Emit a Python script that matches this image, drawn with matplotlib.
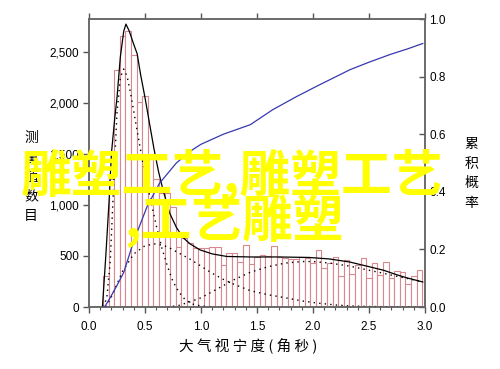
import numpy as np
import matplotlib
matplotlib.use("Agg")
import matplotlib.pyplot as plt
from matplotlib.ticker import FuncFormatter, MultipleLocator

plt.rcParams['font.family'] = ['Liberation Sans', 'DejaVu Sans']
cjk = ['Noto Sans CJK SC', 'DejaVu Sans']

# histogram: bin centres (arcsec) and counts
bin_centers = [0.15, 0.20, 0.25, 0.30, 0.35, 0.40, 0.45, 0.50, 0.55, 0.60,
               0.65, 0.70, 0.75, 0.80, 0.85, 0.90, 0.95, 1.00, 1.05, 1.10,
               1.15, 1.20, 1.25, 1.30, 1.35, 1.40, 1.45, 1.50, 1.55, 1.60,
               1.65, 1.70, 1.75, 1.80, 1.85, 1.90, 1.95, 2.00, 2.05, 2.10,
               2.15, 2.20, 2.25, 2.30, 2.35, 2.40, 2.45, 2.50, 2.55, 2.60,
               2.65, 2.70, 2.75, 2.80, 2.85, 2.90, 2.95]
counts = [300, 1250, 2320, 2650, 2700, 2470, 2010, 2070, 1500, 1250,
          1120, 1120, 980, 590, 680, 630, 580, 580, 580, 590,
          585, 410, 530, 530, 440, 610, 420, 490, 510, 500,
          598, 490, 480, 470, 470, 490, 480, 430, 560, 380,
          430, 493, 305, 460, 325, 410, 475, 285, 430, 315,
          445, 285, 355, 345, 230, 300, 365]

# total fit curve
fit_x = [0.12, 0.15, 0.18, 0.20, 0.23, 0.25, 0.28, 0.31, 0.33, 0.36, 0.40,
         0.43, 0.46, 0.50, 0.54, 0.58, 0.62, 0.66, 0.72, 0.78, 0.84, 0.90,
         0.99, 1.10, 1.23, 1.44, 1.70, 1.97, 2.15, 2.33, 2.50, 2.63, 2.75,
         2.84, 2.98]
fit_y = [0, 500, 1050, 1500, 1850, 2050, 2450, 2700, 2770, 2700, 2570,
         2480, 2280, 2050, 1800, 1550, 1330, 1150, 920, 780, 680, 620,
         560, 520, 495, 490, 490, 485, 470, 440, 395, 360, 315,
         285, 245]

# fitted components
comp1_x = [0.13, 0.16, 0.19, 0.22, 0.25, 0.28, 0.31, 0.34, 0.37, 0.41, 0.45,
           0.50, 0.55, 0.60, 0.65, 0.70, 0.75, 0.80, 0.86, 0.92, 1.00, 1.10]
comp1_y = [0, 100, 450, 1200, 1900, 2250, 2330, 2260, 2100, 1850, 1600,
           1300, 1050, 800, 580, 400, 250, 150, 70, 30, 10, 0]
comp2_x = [0.15, 0.20, 0.30, 0.40, 0.50, 0.60, 0.70, 0.80, 0.90, 1.00, 1.10,
           1.20, 1.30, 1.44, 1.60, 1.73, 1.90, 2.03, 2.20, 2.33, 2.50, 2.98]
comp2_y = [0, 100, 350, 520, 600, 620, 590, 530, 470, 400, 330,
           270, 220, 160, 120, 95, 60, 40, 20, 10, 5, 0]
comp3_x = [0.70, 0.80, 0.90, 1.00, 1.10, 1.20, 1.30, 1.44, 1.60, 1.75, 1.90,
           2.00, 2.15, 2.33, 2.50, 2.63, 2.75, 2.84, 2.98]
comp3_y = [0, 15, 50, 90, 150, 210, 270, 340, 395, 430, 445,
           445, 430, 400, 360, 330, 300, 280, 245]

# cumulative probability
cum_x = [0.14, 0.20, 0.25, 0.31, 0.40, 0.52, 0.63, 0.78, 0.90, 1.00, 1.20,
         1.44, 1.64, 1.85, 2.03, 2.33, 2.50, 2.69, 2.85, 2.98]
cum_y = [0.0, 0.04, 0.075, 0.12, 0.23, 0.35, 0.43, 0.50, 0.54, 0.565, 0.60,
         0.633, 0.685, 0.73, 0.766, 0.824, 0.85, 0.877, 0.897, 0.915]

fig = plt.figure(figsize=(5, 3.69), dpi=100)
ax = fig.add_axes([0.178, 0.168, 0.672, 0.7805])

ax.bar(bin_centers, counts, width=0.05, facecolor='white',
       edgecolor='#d88890', linewidth=0.8, zorder=2)
dots = (0, (1, 3))
ax.plot(comp1_x, comp1_y, color='black', ls=dots, lw=1.0, zorder=3)
ax.plot(comp2_x, comp2_y, color='black', ls=dots, lw=1.0, zorder=3)
ax.plot(comp3_x, comp3_y, color='black', ls=dots, lw=1.0, zorder=3)
ax.plot(fit_x, fit_y, color='black', lw=0.9, zorder=4)

ax.set_xlim(0, 3.0)
ax.set_ylim(0, 2820)
ax.xaxis.set_major_locator(MultipleLocator(0.5))
ax.xaxis.set_minor_locator(MultipleLocator(0.1))
ax.yaxis.set_major_locator(MultipleLocator(500))
ax.yaxis.set_major_formatter(FuncFormatter(lambda v, p: f'{v:,.0f}'))
ax.xaxis.set_major_formatter(FuncFormatter(lambda v, p: f'{v:.1f}'))
ax.tick_params(axis='x', which='major', direction='out', length=4, width=1,
               top=True, color='#555555', labelsize=8.5, pad=6)
ax.tick_params(axis='x', which='minor', direction='out', length=2.5, width=0.8,
               top=False, color='#555555')
ax.tick_params(axis='y', direction='out', length=4, width=1, color='#555555',
               labelsize=8.5, pad=3)
for s in ax.spines.values():
    s.set_color('#666666')
    s.set_linewidth(1.1)

ax2 = ax.twinx()
ax2.plot(cum_x, cum_y, color='#3838b0', lw=0.9, zorder=5)
ax2.set_ylim(0, 1.0)
ax2.yaxis.set_major_locator(MultipleLocator(0.2))
ax2.yaxis.set_major_formatter(FuncFormatter(lambda v, p: f'{v:.1f}'))
ax2.tick_params(axis='y', direction='in', length=4, width=1, color='#555555',
                labelsize=8.5, pad=3)
for s in ax2.spines.values():
    s.set_color('#666666')
    s.set_linewidth(1.1)

# axis titles
fig.text(0.062, 0.52, '\n'.join('测量值数目'), family=cjk, fontsize=10,
         ha='center', va='center', linespacing=1.5)
fig.text(0.943, 0.53, '\n'.join('累积概率'), family=cjk, fontsize=10,
         ha='center', va='center', linespacing=1.5)
fig.text(0.497, 0.065, ' '.join('大气视宁度(角秒)'), family=cjk, fontsize=10.5,
         ha='center', va='center')

# overlay text
fig.text(0.042, 0.522, '雕塑工艺,雕塑工艺', family=cjk, fontsize=36.5,
         fontweight='bold', color='#ffff00', ha='left', va='center', zorder=10)
fig.text(0.248, 0.402, ',工艺雕塑', family=cjk, fontsize=36.5,
         fontweight='bold', color='#ffff00', ha='left', va='center', zorder=10)

fig.savefig('out.png', dpi=100)
